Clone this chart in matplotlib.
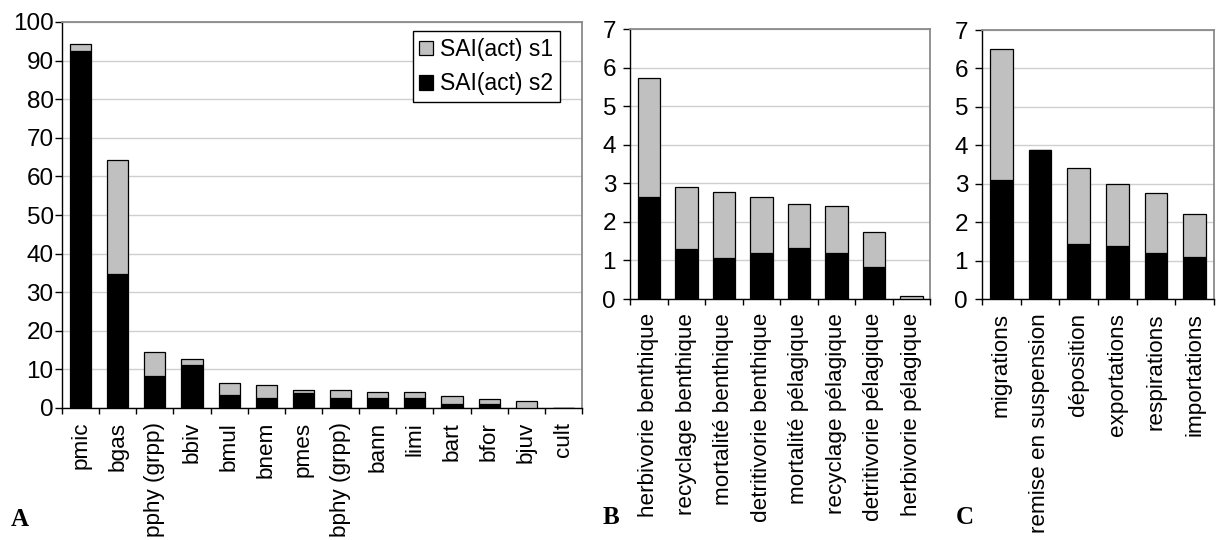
import matplotlib
matplotlib.use("Agg")
import matplotlib.pyplot as plt
from matplotlib.patches import Patch
import numpy as np

plt.rcParams['font.family'] = ['Liberation Sans', 'DejaVu Sans']

# ---- data ----
cats_a = ["pmic", "bgas", "pphy (grpp)", "bbiv", "bmul", "bnem", "pmes",
          "bphy (grpp)", "bann", "limi", "bart", "bfor", "bjuv", "cult"]
a_s2 = [92.6, 34.7, 8.3, 11.1, 3.3, 2.7, 3.8, 2.7, 2.5, 2.7, 1.0, 1.0, 0.1, 0.0]
a_total = [94.2, 64.2, 14.5, 12.7, 6.4, 5.9, 4.6, 4.6, 4.1, 4.1, 3.2, 2.3, 1.8, 0.0]

cats_b = ["herbivorie benthique", "recyclage benthique", "mortalité benthique",
          "detritivorie benthique", "mortalité pélagique", "recyclage pélagique",
          "detritivorie pélagique", "herbivorie pélagique"]
b_s2 = [2.65, 1.29, 1.07, 1.20, 1.33, 1.18, 0.84, 0.0]
b_total = [5.72, 2.91, 2.78, 2.64, 2.46, 2.41, 1.74, 0.09]

cats_c = ["migrations", "remise en suspension", "déposition", "exportations",
          "respirations", "importations"]
c_s2 = [3.10, 3.87, 1.44, 1.39, 1.21, 1.08]
c_total = [6.50, 3.87, 3.40, 3.00, 2.76, 2.20]

legend_labels = ["SAI(act) s1", "SAI(act) s2"]
GRAY = "#c0c0c0"

fig = plt.figure(figsize=(12.16, 5.40), dpi=100)
W, H = 1216, 540


def px_axes(x0, y0, x1, y1):
    return fig.add_axes([x0 / W, 1 - y1 / H, (x1 - x0) / W, (y1 - y0) / H])


def draw(ax, cats, s2, total, ymax, ystep, width, ypad):
    n = len(cats)
    x = np.arange(n)
    s2 = np.array(s2)
    s1 = np.array(total) - s2
    ax.set_axisbelow(True)
    ax.bar(x, s2, width=width, color="black", edgecolor="black", linewidth=0.9, zorder=3)
    ax.bar(x, s1, bottom=s2, width=width, color=GRAY, edgecolor="black", linewidth=0.9, zorder=3)
    ax.set_xlim(-0.5, n - 0.5)
    ax.set_ylim(0, ymax)
    ax.set_yticks(np.arange(0, ymax + ystep / 2, ystep))
    ax.yaxis.grid(True, color="#cfcfcf", linewidth=1.0, zorder=0)
    ax.set_xticks(x)
    ax.set_xticklabels(cats, rotation=90, fontsize=16.2)
    ax.set_xticks(np.arange(-0.5, n, 1), minor=True)
    ax.tick_params(axis="x", which="major", length=0, pad=10)
    ax.tick_params(axis="x", which="minor", length=4.5, width=1, direction="out", color="black")
    ax.tick_params(axis="y", which="major", length=5, width=1, direction="out",
                   labelsize=17.5, pad=ypad, color="black")
    for s in ("left", "bottom"):
        ax.spines[s].set_color("black")
        ax.spines[s].set_linewidth(1.0)
    for s in ("top", "right"):
        ax.spines[s].set_color("#8a8a8a")
        ax.spines[s].set_linewidth(1.3)


axA = px_axes(62, 22, 582, 408)
draw(axA, cats_a, a_s2, a_total, 100, 10, 0.57, 1.0)
handles = [Patch(facecolor=GRAY, edgecolor="black", linewidth=0.9),
           Patch(facecolor="black", edgecolor="black", linewidth=0.9)]
leg = axA.legend(handles, legend_labels, loc="upper right",
                 bbox_to_anchor=((560 - 62) / 520, 1 - (31 - 22) / 386),
                 borderaxespad=0, fontsize=16.5, frameon=True, fancybox=False,
                 framealpha=1, edgecolor="black", borderpad=0.3, labelspacing=0.5,
                 handlelength=0.6, handleheight=0.6, handletextpad=0.3)
leg.get_frame().set_linewidth(1.0)

axB = px_axes(630, 29, 930, 299)
draw(axB, cats_b, b_s2, b_total, 7, 1, 0.6, 5)

axC = px_axes(982, 30, 1214, 299)
draw(axC, cats_c, c_s2, c_total, 7, 1, 0.58, 5)

for lab, xp, yp in (("A", 20, 520), ("B", 611, 517), ("C", 965, 517)):
    fig.text(xp / W, 1 - yp / H, lab, family=["Liberation Serif", "DejaVu Serif"],
             fontweight="bold", fontsize=18, ha="center", va="center")

fig.savefig("out.png", dpi=100)
